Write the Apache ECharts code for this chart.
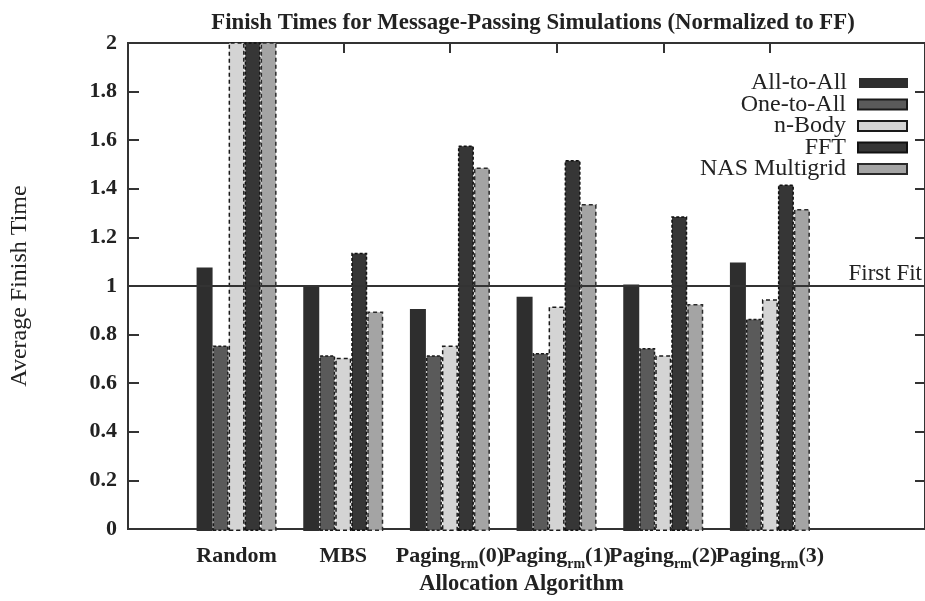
<!DOCTYPE html>
<html>
<head>
<meta charset="utf-8">
<script src="https://cdn.jsdelivr.net/npm/echarts@6/dist/echarts.min.js"></script>
<style>
html,body{margin:0;padding:0;background:#fff;}
#chart{width:925px;height:601px;}
</style>
</head>
<body>
<div id="chart"></div>
<script>
// ---- data ----
var categories = ['Random', 'MBS', 'Paging_rm(0)', 'Paging_rm(1)', 'Paging_rm(2)', 'Paging_rm(3)'];
var seriesNames = ['All-to-All', 'One-to-All', 'n-Body', 'FFT', 'NAS Multigrid'];
var allToAll = [1.08, 1.00, 0.91, 0.96, 1.01, 1.10];
var oneToAll = [0.76, 0.72, 0.72, 0.73, 0.75, 0.87];
var nBody    = [2.30, 0.71, 0.76, 0.92, 0.72, 0.95];
var fft      = [2.30, 1.14, 1.58, 1.52, 1.29, 1.42];
var nasMg    = [2.30, 0.90, 1.49, 1.34, 0.93, 1.32];
var yTicks   = [0, 0.2, 0.4, 0.6, 0.8, 1, 1.2, 1.4, 1.6, 1.8, 2];
var firstFitValue = 1;

var FONT = 'Liberation Serif';
var chart = echarts.init(document.getElementById('chart'), null, {renderer: 'canvas'});

var styles = [
  {color: '#2e2e2e', borderColor: '#222', borderWidth: 0, borderType: 'solid'},
  {color: '#5a5a5a', borderColor: '#1a1a1a', borderWidth: 1.5, borderType: [3, 2]},
  {color: '#d4d4d4', borderColor: '#1a1a1a', borderWidth: 1.5, borderType: [4, 3]},
  {color: '#363636', borderColor: '#111', borderWidth: 1.5, borderType: [3, 2]},
  {color: '#a4a4a4', borderColor: '#2a2a2a', borderWidth: 1.5, borderType: [4, 3]}
];
var values = [allToAll, oneToAll, nBody, fft, nasMg];

var barSeries = seriesNames.map(function (n, i) {
  return {
    name: n, type: 'bar', xAxisIndex: 0, yAxisIndex: 0,
    data: values[i], barWidth: 16, barGap: '0%', clip: true, z: 3,
    itemStyle: styles[i]
  };
});

var legendTops = [71, 92.5, 114, 135.5, 157];
var legends = seriesNames.map(function (n, i) {
  return {
    data: [{name: n, icon: 'rect'}], right: 17, top: legendTops[i], padding: 0,
    orient: 'vertical', align: 'right',
    itemWidth: 49, itemHeight: 10, selectedMode: false,
    textStyle: {fontFamily: FONT, fontSize: 24, color: '#222', padding: [0, 7, 0, 0]}
  };
});

var option = {
  backgroundColor: '#fff',
  animation: false,
  title: {
    text: 'Finish Times for Message-Passing Simulations (Normalized to FF)',
    left: 528, top: 7, textAlign: 'center',
    textStyle: {fontFamily: FONT, fontSize: 22.8, fontWeight: 'bold', color: '#222'}
  },
  legend: legends,
  grid: [
    {left: 183.25, right: 101.75, top: 43, bottom: 70, show: false},
    {left: 128, right: -1, top: 43, bottom: 70, show: true, borderColor: '#333', borderWidth: 2, backgroundColor: 'transparent'}
  ],
  xAxis: [
    {
      type: 'category', gridIndex: 0, data: categories, position: 'bottom',
      axisLine: {show: false},
      axisTick: {show: true, inside: true, alignWithLabel: true, length: 10, lineStyle: {color: '#333', width: 2}},
      axisLabel: {
        interval: 0, margin: 13, color: '#222',
        formatter: function (v) {
          var p = v.split('_rm');
          if (p.length === 2) return '{t|' + p[0] + '}{s|rm}{t|' + p[1] + '}';
          return '{t|' + v + '}';
        },
        rich: {
          t: {fontFamily: FONT, fontWeight: 'bold', fontSize: 22, color: '#222', lineHeight: 24},
          s: {fontFamily: FONT, fontWeight: 'bold', fontSize: 14, color: '#222', lineHeight: 14, padding: [16, 0, 0, 0]}
        }
      }
    },
    {
      type: 'category', gridIndex: 0, data: categories, position: 'top',
      axisLine: {show: false},
      axisTick: {show: true, inside: true, alignWithLabel: true, length: 10, lineStyle: {color: '#333', width: 2}},
      axisLabel: {show: false}
    },
    {
      type: 'value', gridIndex: 1, min: 0, max: 1, show: true,
      axisLine: {show: false}, axisTick: {show: false}, axisLabel: {show: false}, splitLine: {show: false},
      name: 'Allocation Algorithm', nameLocation: 'middle', nameGap: 44,
      nameTextStyle: {fontFamily: FONT, fontWeight: 'bold', fontSize: 22.5, color: '#222', padding: [0, 10, 0, 0]}
    }
  ],
  yAxis: [
    {type: 'value', gridIndex: 0, min: 0, max: 2, show: false},
    {
      type: 'value', gridIndex: 1, min: 0, max: 2, interval: 0.2, position: 'left',
      axisLine: {show: false},
      axisTick: {show: true, inside: true, length: 11, lineStyle: {color: '#333', width: 2}},
      splitLine: {show: false},
      axisLabel: {
        margin: 11, color: '#222', fontFamily: FONT, fontWeight: 'bold', fontSize: 22,
        formatter: function (v) { return String(Math.round(v * 10) / 10); }
      },
      name: 'Average Finish Time', nameLocation: 'middle', nameGap: 96, nameRotate: 90,
      nameTextStyle: {fontFamily: FONT, fontSize: 24, color: '#222'}
    },
    {
      type: 'value', gridIndex: 1, min: 0, max: 2, interval: 0.2, position: 'right',
      axisLine: {show: false},
      axisTick: {show: true, inside: true, length: 10, lineStyle: {color: '#333', width: 2}},
      axisLabel: {show: false}, splitLine: {show: false}
    }
  ],
  series: [{
    name: 'First Fit', type: 'line', xAxisIndex: 2, yAxisIndex: 1, data: [], z: 1,
    markLine: {
      silent: true, symbol: 'none', animation: false,
      lineStyle: {color: '#333', width: 2, type: 'solid'},
      label: {show: true, position: 'insideEndTop', distance: [3, 1], formatter: 'First Fit',
        fontFamily: FONT, fontSize: 23, color: '#222'},
      data: [{yAxis: firstFitValue}]
    }
  }].concat(barSeries)
};
chart.setOption(option);
</script>
</body>
</html>
